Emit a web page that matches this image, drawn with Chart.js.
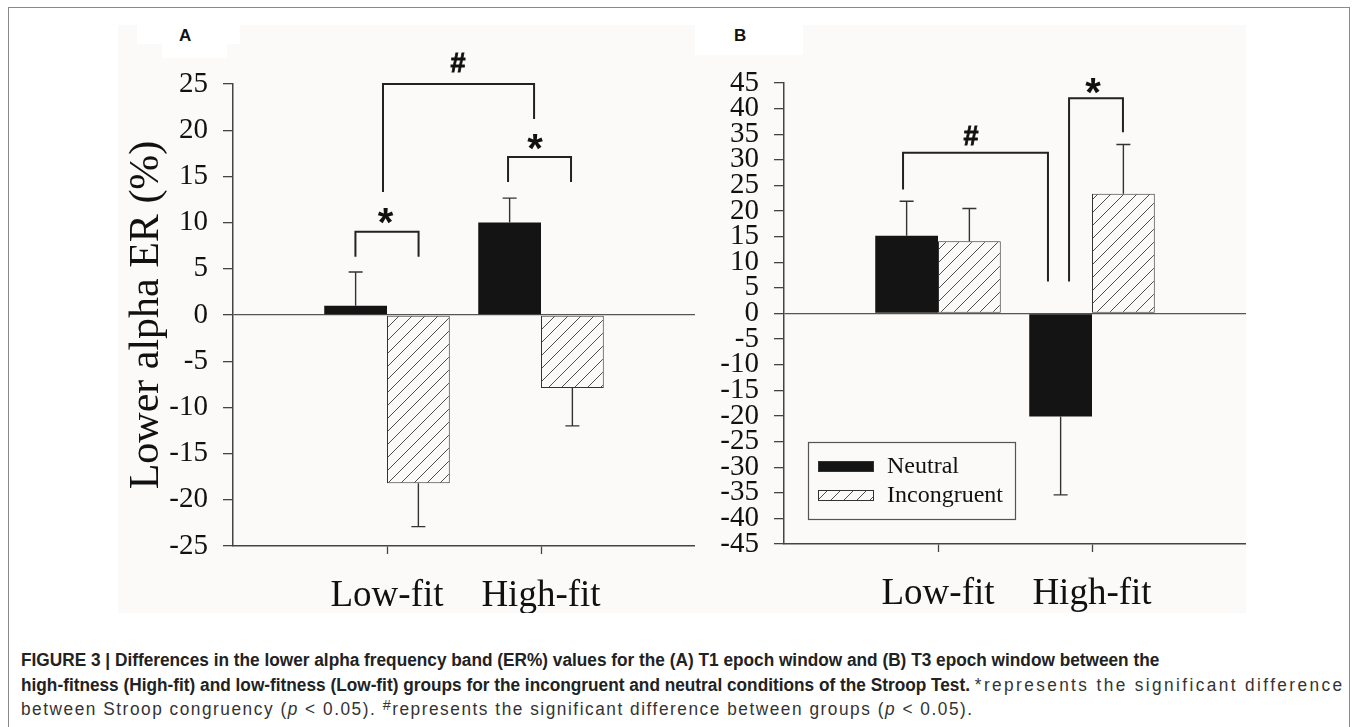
<!DOCTYPE html>
<html>
<head>
<meta charset="utf-8">
<script src="https://cdn.jsdelivr.net/npm/chart.js@4.4.1/dist/chart.umd.min.js"></script>
<style>
  html, body { margin: 0; padding: 0; background: #ffffff; width: 1360px; height: 727px; overflow: hidden; }
  #frame { position: absolute; left: 8px; top: 7px; width: 1342px; height: 740px;
           border-top: 1px solid #8a8a8a; border-left: 1px solid #8a8a8a; border-right: 1px solid #8a8a8a; box-sizing: border-box; }
  #panelbg { position: absolute; left: 118px; top: 25px; width: 1128px; height: 588px; background: #fcfaf9; }
  .lblbox { position: absolute; background: #ffffff; }
  .plabel { position: absolute; font-family: "Liberation Sans", Arial, sans-serif; font-weight: bold; font-size: 17px; color: #111; }
  canvas { position: absolute; }
  #caption { position: absolute; left: 21px; top: 648px; width: 1400px; font-family: "Liberation Sans", Arial, sans-serif;
             font-size: 18px; line-height: 24.5px; color: #333; white-space: nowrap;
             transform: scaleX(0.958); transform-origin: 0 0; }
  #caption b { color: #222; }
  #caption .r2 { letter-spacing: 2.5px; }
  #caption .r3 { letter-spacing: 1.6px; }
  #caption sup { font-size: 15px; vertical-align: 5px; line-height: 0; }
</style>
</head>
<body>
<div id="frame"></div>
<div id="panelbg"></div>
<div class="lblbox" style="left:137px;top:25px;width:103px;height:19px;"></div>
<div class="lblbox" style="left:162px;top:44px;width:65px;height:14px;"></div>
<div class="lblbox" style="left:695px;top:25px;width:108px;height:30px;"></div>
<div class="plabel" style="left:179px;top:26px;">A</div>
<div class="plabel" style="left:734px;top:26px;">B</div>
<canvas id="chartA" width="577" height="588" style="left:118px;top:25px;"></canvas>
<canvas id="chartB" width="551" height="588" style="left:695px;top:25px;"></canvas>
<div id="caption"><b>FIGURE 3 | Differences in the lower alpha frequency band (ER%) values for the (A) T1 epoch window and (B) T3 epoch window between the<br>high-fitness (High-fit) and low-fitness (Low-fit) groups for the incongruent and neutral conditions of the Stroop Test.</b> <span class="r2">*represents the significant difference</span><br><span class="r3">between Stroop congruency (<i>p</i> &lt; 0.05). <sup>#</sup>represents the significant difference between groups (<i>p</i> &lt; 0.05).</span></div>

<script>
// ---------------- data ----------------
const categories = ['Low-fit', 'High-fit'];
const seriesNames = ['Neutral', 'Incongruent'];

// Panel A (T1 epoch window)
const aNeutral      = [1.0, 10.0];
const aNeutralErr   = [3.65, 2.65];
const aIncongruent  = [-18.2, -7.9];
const aIncongErr    = [4.7, 4.1];
const aTickLabels   = [-25, -20, -15, -10, -5, 0, 5, 10, 15, 20, 25];

// Panel B (T3 epoch window)
const bNeutral      = [15.2, -20.1];
const bNeutralErr   = [6.7, 15.3];
const bIncongruent  = [14.1, 23.4];
const bIncongErr    = [6.4, 9.6];
const bTickLabels   = [-45, -40, -35, -30, -25, -20, -15, -10, -5, 0, 5, 10, 15, 20, 25, 30, 35, 40, 45];

// significance brackets (x in category index units, y in data units)
const aBrackets = [
  { x1: 0.795, x2: 1.205, y: 9.0,  yL: 6.3,  yR: 6.3,  mark: '*', mx: 0.99,  my: 10.7 },
  { x1: 1.786, x2: 2.195, y: 17.1, yL: 14.4, yR: 14.4, mark: '*', mx: 1.961, my: 18.7 },
  { x1: 0.974, x2: 1.955, y: 25.0, yL: 13.3, yR: 21.2, mark: '#', mx: 1.461, my: 27.3 }
];
const bBrackets = [
  { x1: 0.773, x2: 1.714, y: 31.4, yL: 24.2, yR: 6.25, mark: '#', mx: 1.214, my: 34.8 },
  { x1: 1.851, x2: 2.201, y: 42.0, yL: 6.25, yR: 35.4, mark: '*', mx: 2.006, my: 44.5 }
];

// ---------------- helpers ----------------
const PANEL_BG = '#fcfaf9';

function hatchPattern() {
  const s = 13;
  const c = document.createElement('canvas');
  c.width = s; c.height = s;
  const g = c.getContext('2d');
  g.fillStyle = PANEL_BG;
  g.fillRect(0, 0, s, s);
  g.strokeStyle = '#3a3a3a';
  g.lineWidth = 0.9;
  g.beginPath();
  g.moveTo(-1, s + 1); g.lineTo(s + 1, -1);
  g.moveTo(-1, 1); g.lineTo(1, -1);
  g.moveTo(s - 1, s + 1); g.lineTo(s + 1, s - 1);
  g.stroke();
  return g.createPattern(c, 'repeat');
}
const HATCH = hatchPattern();

const padded = arr => [null, ...arr, null];
const labels = ['', ...categories, ''];

const overlayPlugin = {
  id: 'overlay',
  afterDatasetsDraw(chart, args, opts) {
    const ctx = chart.ctx;
    const xs = chart.scales.x, ys = chart.scales.y;
    ctx.save();
    // error bars
    ctx.strokeStyle = '#333';
    ctx.lineWidth = 1.4;
    chart.data.datasets.forEach((ds, di) => {
      const meta = chart.getDatasetMeta(di);
      meta.data.forEach((bar, i) => {
        const v = ds.data[i], e = ds.errors[i];
        if (v === null || e === null || e === undefined) return;
        const tip = v + (v >= 0 ? e : -e);
        const yb = ys.getPixelForValue(v), yt = ys.getPixelForValue(tip);
        ctx.beginPath();
        ctx.moveTo(bar.x, yb); ctx.lineTo(bar.x, yt);
        ctx.moveTo(bar.x - 7, yt); ctx.lineTo(bar.x + 7, yt);
        ctx.stroke();
      });
    });
    // brackets
    ctx.strokeStyle = '#222';
    ctx.lineWidth = 2;
    (opts.brackets || []).forEach(b => {
      const x1 = xs.getPixelForValue(b.x1), x2 = xs.getPixelForValue(b.x2);
      const y = ys.getPixelForValue(b.y);
      ctx.beginPath();
      ctx.moveTo(x1, ys.getPixelForValue(b.yL));
      ctx.lineTo(x1, y); ctx.lineTo(x2, y);
      ctx.lineTo(x2, ys.getPixelForValue(b.yR));
      ctx.stroke();
      ctx.fillStyle = '#111';
      ctx.font = b.mark === '*' ? 'bold 40px "Liberation Sans", Arial, sans-serif'
                                : 'bold 27px "Liberation Sans", Arial, sans-serif';
      ctx.textAlign = 'center';
      ctx.textBaseline = 'alphabetic';
      const m = ctx.measureText(b.mark);
      const cx = xs.getPixelForValue(b.mx);
      const cy = ys.getPixelForValue(b.my);
      const by = cy + (m.actualBoundingBoxAscent - m.actualBoundingBoxDescent) / 2;
      ctx.fillText(b.mark, cx, by);
      if (b.mark === '#') {
        ctx.lineWidth = 0.8;
        ctx.strokeStyle = '#111';
        ctx.strokeText(b.mark, cx, by);
        ctx.lineWidth = 2;
        ctx.strokeStyle = '#222';
      }
    });
    // legend
    if (opts.legend) {
      const L = opts.legend;
      const lx = chart.chartArea.left + L.dx, ly = chart.chartArea.top + L.dy;
      ctx.fillStyle = PANEL_BG;
      ctx.fillRect(lx, ly, L.w, L.h);
      ctx.strokeStyle = '#555';
      ctx.lineWidth = 1.2;
      ctx.strokeRect(lx + 0.5, ly + 0.5, L.w, L.h);
      ctx.font = '24px "Liberation Serif", "Times New Roman", serif';
      ctx.textAlign = 'left';
      ctx.textBaseline = 'alphabetic';
      chart.data.datasets.forEach((ds, di) => {
        const sy = ly + 19 + di * 29;
        ctx.fillStyle = ds.backgroundColor;
        ctx.fillRect(lx + 10, sy, 55, 10);
        ctx.strokeStyle = '#333';
        ctx.lineWidth = 1;
        ctx.strokeRect(lx + 10.5, sy + 0.5, 55, 10);
        ctx.fillStyle = '#111';
        ctx.fillText(ds.label, lx + 79, sy + 12);
      });
    }
    ctx.restore();
  }
};

function makeChart(id, neutral, nErr, incong, iErr, ticks, brackets, yWidth, xHeight, padTop, showTitle, legend) {
  const tickSet = new Set(ticks);
  return new Chart(document.getElementById(id), {
    type: 'bar',
    data: {
      labels: labels,
      datasets: [
        { label: seriesNames[0], data: padded(neutral), errors: padded(nErr),
          backgroundColor: '#141414', borderColor: '#141414', borderWidth: 0 },
        { label: seriesNames[1], data: padded(incong), errors: padded(iErr),
          backgroundColor: HATCH, borderColor: '#333', borderWidth: 1, borderSkipped: false }
      ]
    },
    options: {
      responsive: false,
      animation: false,
      devicePixelRatio: 1,
      categoryPercentage: 0.815,
      barPercentage: 1.0,
      layout: { padding: { top: padTop, right: 0, left: 0, bottom: 0 } },
      plugins: {
        legend: { display: false },
        tooltip: { enabled: false },
        overlay: { brackets: brackets, legend: legend }
      },
      scales: {
        x: {
          type: 'category',
          offset: false,
          grid: { display: true, drawOnChartArea: false, offset: false, tickLength: 8,
                  color: 'rgba(0,0,0,0)',
                  tickColor: c => (c.tick && c.tick.label) ? '#444' : 'rgba(0,0,0,0)', tickWidth: 1.3 },
          border: { display: true, color: '#444', width: 1.5 },
          ticks: { autoSkip: false, maxRotation: 0, padding: 0, color: '#111',
                   font: { family: '"Liberation Serif", "Times New Roman", serif', size: 37, lineHeight: '84px' } },
          afterFit: s => { s.height = xHeight; }
        },
        y: {
          min: ticks[0], max: ticks[ticks.length - 1],
          afterBuildTicks: s => { s.ticks = ticks.map(v => ({ value: v })); },
          grid: { display: true, drawOnChartArea: true, tickLength: 10,
                  color: c => (c.tick && c.tick.value === 0) ? '#555' : 'rgba(0,0,0,0)',
                  lineWidth: 1.3, tickColor: '#444', tickWidth: 1.3 },
          border: { display: true, color: '#444', width: 1.5 },
          ticks: { autoSkip: false, padding: 15, color: '#111',
                   callback: v => tickSet.has(v) ? String(v) : '',
                   font: { family: '"Liberation Serif", "Times New Roman", serif', size: 29 } },
          title: { display: showTitle, text: 'Lower alpha ER (%)', color: '#111', padding: { top: 4, bottom: 0 },
                   font: { family: '"Liberation Serif", "Times New Roman", serif', size: 42 } },
          afterFit: s => { s.width = yWidth; }
        }
      }
    },
    plugins: [overlayPlugin]
  });
}

makeChart('chartA', aNeutral, aNeutralErr, aIncongruent, aIncongErr, aTickLabels, aBrackets, 115, 67, 59, true, null);
makeChart('chartB', bNeutral, bNeutralErr, bIncongruent, bIncongErr, bTickLabels, bBrackets, 89, 69, 58, false,
          { dx: 24, dy: 359, w: 207, h: 77 });
</script>
</body>
</html>
